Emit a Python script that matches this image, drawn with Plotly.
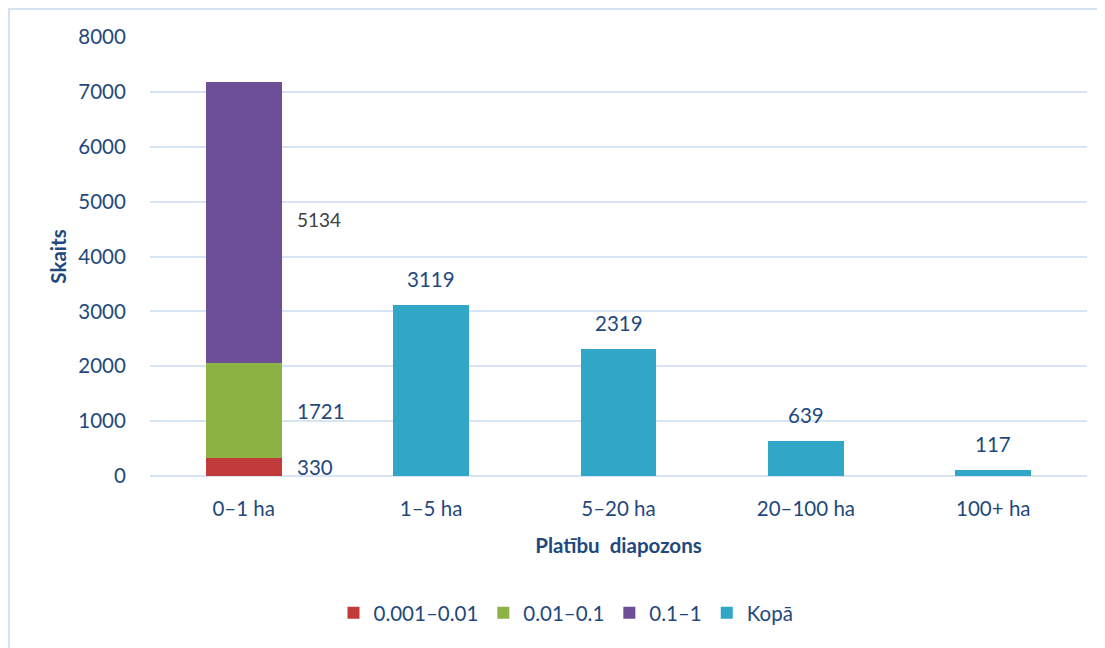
import plotly.graph_objects as go

categories = ["0–1 ha", "1–5 ha", "5–20 ha", "20–100 ha", "100+ ha"]
s_small = [330, None, None, None, None]      # 0.001–0.01
s_mid = [1721, None, None, None, None]       # 0.01–0.1
s_large = [5134, None, None, None, None]     # 0.1–1
s_total = [None, 3119, 2319, 639, 117]       # Kopā
series_names = ["0.001–0.01", "0.01–0.1", "0.1–1", "Kopā"]
y_ticks = [0, 1000, 2000, 3000, 4000, 5000, 6000, 7000, 8000]

TXT = "#1F497D"
FONT = "Lato"
FS = 20.5
GRID = "#D7E4F4"

# page has an 8px body margin; figure is placed at (8, 8)
W, H = 1097, 640
OFF = 8

fig = go.Figure()
colors = ["#C23B3B", "#8DB244", "#6D4F97", "#31A7C8"]
for name, vals, col in zip(series_names, [s_small, s_mid, s_large, s_total], colors):
    fig.add_trace(go.Bar(x=categories, y=vals, name=name,
                         marker=dict(color=col, line=dict(width=0)),
                         hoverinfo="x+y+name"))

# stacked segment labels (right of the bar, at segment midpoints)
base = 0
for vals, col, size, ys in [(s_small, TXT, FS, 0), (s_mid, TXT, FS, 0), (s_large, "#404040", 19, 3)]:
    v = vals[0]
    fig.add_annotation(x=categories[0], y=base + v / 2, text=str(v), showarrow=False,
                       xanchor="left", yanchor="middle", xshift=51, yshift=ys,
                       font=dict(family=FONT, size=size, color=col))
    base += v

# Kopā labels above bars
for c, v in zip(categories, s_total):
    if v is not None:
        fig.add_annotation(x=c, y=v, text=str(v), showarrow=False,
                           xanchor="center", yanchor="middle", yshift=26,
                           font=dict(family=FONT, size=FS, color=TXT))

# plot area in screen pixels
L, R, T, B = 150 - OFF, 1087 - OFF, 37 - OFF, 476 - OFF
pw, ph = R - L, B - T

# outer chart border (starts at figure's top-left corner)
fig.add_shape(type="rect", xref="paper", yref="paper",
              x0=(1 - L) / pw, x1=(W + 20 - L) / pw,
              y0=(B - H - 20) / ph, y1=(B - 1) / ph,
              line=dict(color="#D4E2F2", width=2), fillcolor="rgba(0,0,0,0)", layer="below")

fig.update_layout(
    width=W, height=H,
    margin=dict(l=L, r=W - R, t=T, b=H - B),
    paper_bgcolor="white", plot_bgcolor="white",
    barmode="stack", bargap=0.595,
    font=dict(family=FONT, size=FS, color=TXT),
    showlegend=True,
    legend=dict(orientation="h", x=(566 - OFF - L) / pw, xanchor="center",
                y=(B - (613 - OFF)) / ph, yanchor="middle",
                font=dict(family=FONT, size=FS, color=TXT),
                itemwidth=30, tracegroupgap=0, traceorder="normal"),
    xaxis=dict(showgrid=False, showline=False, zeroline=False,
               ticks="outside", ticklen=14, tickcolor="rgba(0,0,0,0)",
               tickfont=dict(family=FONT, size=FS, color=TXT),
               title=dict(text="<b>Platību  diapozons</b>", standoff=20,
                          font=dict(family=FONT, size=FS, color=TXT))),
    yaxis=dict(range=[0, 8000], tickvals=y_ticks, showgrid=True, gridcolor=GRID, gridwidth=2,
               zeroline=True, zerolinecolor=GRID, zerolinewidth=2, showline=False,
               ticks="outside", ticklen=19, tickcolor="rgba(0,0,0,0)",
               tickfont=dict(family=FONT, size=FS, color=TXT),
               title=dict(text="<b>Skaits</b>", standoff=6,
                          font=dict(family=FONT, size=FS, color=TXT))),
)

fig.write_html("out.html")
